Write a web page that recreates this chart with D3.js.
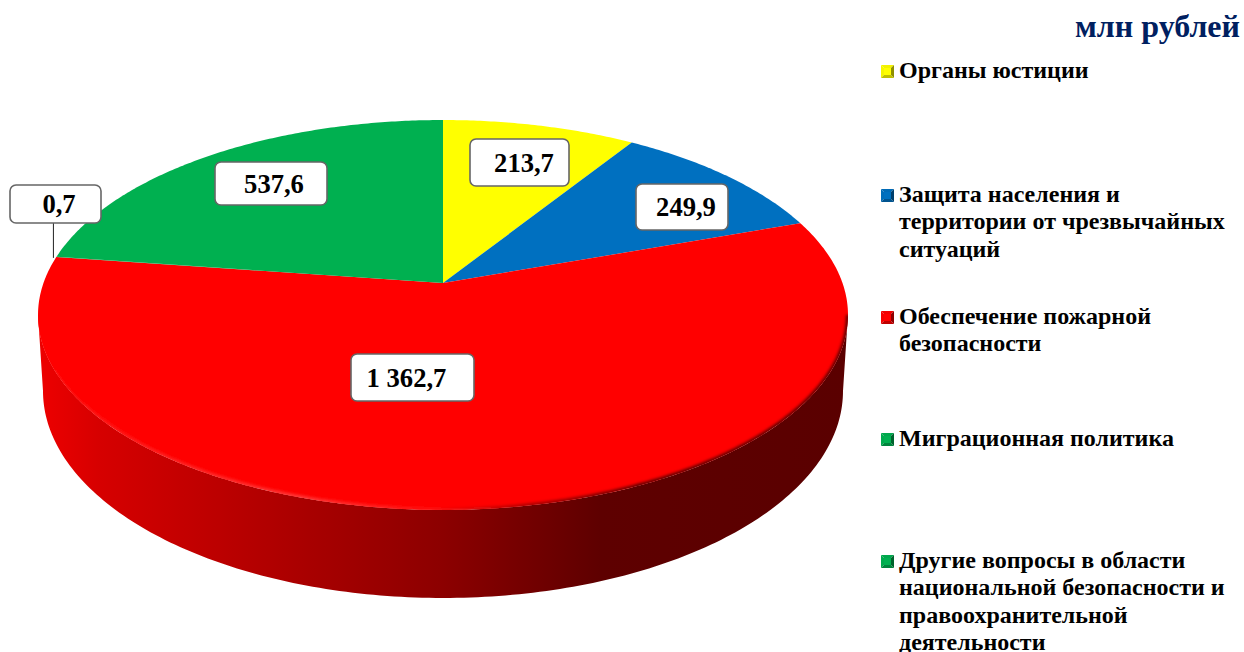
<!DOCTYPE html>
<html>
<head>
  <meta charset="utf-8">
  <script src="https://d3js.org/d3.v7.min.js"></script>
  <style>
    html, body { margin: 0; padding: 0; background: #fff; }
    svg { display: block; }
    text { font-family: "Liberation Serif", serif; font-weight: bold; }
  </style>
</head>
<body>
  <script type="text/javascript">
    // chart data
    var categories = [
      ["Органы юстиции"],
      ["Защита населения и", "территории от чрезвычайных", "ситуаций"],
      ["Обеспечение пожарной", "безопасности"],
      ["Миграционная политика"],
      ["Другие вопросы в области", "национальной безопасности и", "правоохранительной", "деятельности"]
    ];
    var values = [213.7, 249.9, 1362.7, 0.7, 537.6];
    var valueLabels = ["213,7", "249,9", "1 362,7", "0,7", "537,6"];
    var colors = ["#ffff00", "#0070c0", "#ff0000", "#00b050", "#00b050"];
    var unitLabel = "млн рублей";

    // layout, kept apart from the data
    var legendTops = [78, 202, 324, 446, 568];
    var labelBoxes = [[470, 139, 99, 47], [636, 184, 92, 46], [351, 354, 123, 47], [10, 185, 91, 38], [215, 162, 112, 43]];
    var labelCentres = [524, 686, 406.5, 59, 274];

    var width = 1244, height = 652;

    // the pie is seen in perspective: the centre sits above the middle of the ellipse
    var cx = 443, cy = 283, persp = 0.164, a = 189.7, b = 399.5;

    function project(angle) {
      var u = Math.sin(angle), v = -Math.cos(angle);
      var w = 1 / (1 - persp * v);
      return [cx + b * u * w, cy + a * v * w];
    }

    function sample(start, end) {
      var n = Math.max(2, Math.ceil(Math.abs(end - start) / 0.01));
      return d3.range(n + 1).map(function (i) {
        return project(start + (end - start) * i / n);
      });
    }

    var line = d3.line();

    var svg = d3.select("body").append("svg")
      .attr("width", width)
      .attr("height", height);

    var defs = svg.append("defs");

    function addGradient(id, stops) {
      var g = defs.append("linearGradient")
        .attr("id", id)
        .attr("gradientUnits", "userSpaceOnUse")
        .attr("x1", 38).attr("x2", 848).attr("y1", 0).attr("y2", 0);
      g.selectAll("stop").data(stops).enter().append("stop")
        .attr("offset", function (d) { return (d[0] - 38) / 810; })
        .attr("stop-color", function (d) { return d[1]; });
    }

    addGradient("wallGrad", [[38, "#ee0000"], [100, "#d60000"], [200, "#c00000"], [300, "#aa0000"],
      [443, "#8c0000"], [600, "#5e0000"], [848, "#5a0000"]]);
    addGradient("edgeGrad", [[38, "#ff0000"], [110, "#ff1c1c"], [300, "#ff3c3c"], [430, "#ff1414"],
      [520, "#b00000"], [640, "#5a0000"], [848, "#5a0000"]]);

    defs.append("filter").attr("id", "soft")
      .attr("filterUnits", "userSpaceOnUse")
      .attr("x", 0).attr("y", 0).attr("width", width).attr("height", height)
      .append("feGaussianBlur").attr("stdDeviation", 1.4);

    var pie = d3.pie().sort(null).startAngle(0).endAngle(2 * Math.PI);
    var arcs = pie(values);

    // side wall: lower half of an ellipse joined to the front edge of the top face
    var wallCx = 443, wallCy = 391, wallRx = 400, wallRy = 207;
    var edgeStart = Math.PI / 2 + 0.165, edgeEnd = 3 * Math.PI / 2 - 0.165;
    var bottom = d3.range(0, 181).map(function (t) {
      var r = t * Math.PI / 180;
      return [wallCx + wallRx * Math.cos(r), wallCy + wallRy * Math.sin(r)];
    });
    var frontEdge = sample(edgeStart, edgeEnd);

    svg.append("path")
      .attr("d", line(bottom.concat(frontEdge.slice().reverse())) + "Z")
      .attr("fill", "url(#wallGrad)");

    // top face
    function slicePath(d) {
      return line([[cx, cy]].concat(sample(d.startAngle, d.endAngle))) + "Z";
    }

    defs.append("clipPath").attr("id", "faceClip")
      .append("path").attr("d", line(sample(0, 2 * Math.PI)) + "Z");

    svg.append("g").selectAll("path").data(arcs).enter().append("path")
      .attr("d", slicePath)
      .attr("fill", function (d, i) { return colors[i]; });

    // bevel on the front edge, light on the left and dark on the right
    svg.append("g").attr("clip-path", "url(#faceClip)")
      .append("path")
      .attr("d", line(frontEdge))
      .attr("fill", "none")
      .attr("stroke", "url(#edgeGrad)")
      .attr("stroke-width", 4)
      .attr("filter", "url(#soft)");

    // leader line of the smallest slice
    var tiny = arcs[3];
    var tinyPoint = project((tiny.startAngle + tiny.endAngle) / 2);
    svg.append("line")
      .attr("x1", tinyPoint[0] - 3).attr("x2", tinyPoint[0] - 3)
      .attr("y1", labelBoxes[3][1] + labelBoxes[3][3])
      .attr("y2", tinyPoint[1] + 1)
      .attr("stroke", "#222")
      .attr("stroke-width", 1);

    // value labels
    var labels = svg.append("g").selectAll("g").data(valueLabels).enter().append("g");

    labels.append("rect")
      .attr("x", function (d, i) { return labelBoxes[i][0]; })
      .attr("y", function (d, i) { return labelBoxes[i][1]; })
      .attr("width", function (d, i) { return labelBoxes[i][2]; })
      .attr("height", function (d, i) { return labelBoxes[i][3]; })
      .attr("rx", 6).attr("ry", 6)
      .attr("fill", "#fff")
      .attr("stroke", "#666")
      .attr("stroke-width", 1.6);

    labels.append("text")
      .attr("x", function (d, i) { return labelCentres[i]; })
      .attr("y", function (d, i) { return labelBoxes[i][1] + labelBoxes[i][3] / 2 + 9; })
      .attr("text-anchor", "middle")
      .attr("font-size", 26.6)
      .attr("fill", "#000")
      .text(function (d) { return d; });

    // unit
    svg.append("text")
      .attr("x", 1240).attr("y", 37)
      .attr("text-anchor", "end")
      .attr("font-size", 32)
      .attr("fill", "#002060")
      .text(unitLabel);

    // legend
    var legend = svg.append("g").selectAll("g").data(categories).enter().append("g")
      .attr("transform", function (d, i) { return "translate(881," + legendTops[i] + ")"; });

    var m = 13;
    var bevels = [
      { pts: [[0, 0], [m, 0], [m / 2, m / 2]], shade: function (c) { return c.darker(0.15); } },
      { pts: [[0, 0], [0, m], [m / 2, m / 2]], shade: function (c) { return c.darker(0.1); } },
      { pts: [[m, 0], [m, m], [m / 2, m / 2]], shade: function (c) { return c.darker(1.6); } },
      { pts: [[0, m], [m, m], [m / 2, m / 2]], shade: function (c) { return c.darker(0.8); } }
    ];

    legend.each(function (lines, i) {
      var item = d3.select(this);
      item.selectAll("path").data(bevels).enter().append("path")
        .attr("transform", "translate(0,-13)")
        .attr("d", function (d) { return line(d.pts) + "Z"; })
        .attr("fill", function (d) { return d.shade(d3.color(colors[i])).formatHex(); });
      item.append("rect")
        .attr("x", 3).attr("y", -10).attr("width", m - 6).attr("height", m - 6)
        .attr("fill", colors[i]);
      item.selectAll("text").data(lines).enter().append("text")
        .attr("x", 18)
        .attr("y", function (d, j) { return j * 27.4; })
        .attr("font-size", 24)
        .attr("fill", "#000")
        .text(function (d) { return d; });
    });
  </script>
</body>
</html>
